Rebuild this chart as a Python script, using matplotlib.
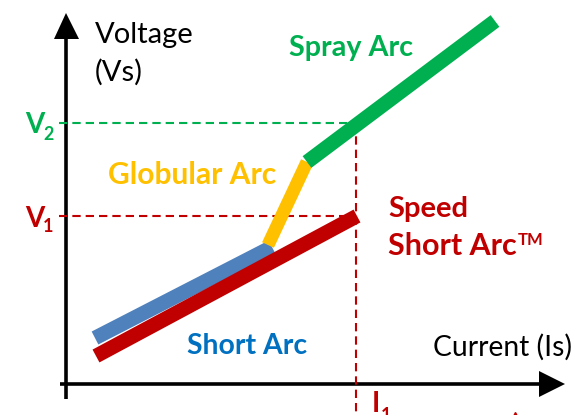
import matplotlib
matplotlib.use('Agg')
import matplotlib.pyplot as plt

# arc segments: current (Is) and voltage (Vs), in picture units
short_i = [95, 272]
short_v = [338, 247]
speed_i = [96, 357]
speed_v = [356, 216]
glob_i = [268, 307]
glob_v = [245, 162]
spray_i = [307, 495]
spray_v = [162, 21]

v1 = 216
v2 = 123
i1 = 356

blue = '#4F81BD'
red = '#C00000'
yellow = '#FFC000'
green = '#00B050'
txtblue = '#0070C0'

plt.rcParams['font.family'] = ['Lato', 'DejaVu Sans']

fig = plt.figure(figsize=(5.82, 4.15), dpi=100)
ax = fig.add_axes([0, 0, 1, 1])
ax.set_xlim(0, 582)
ax.set_ylim(415, 0)
ax.axis('off')

# axes with arrows
ax.plot([66, 66], [399, 30], color='black', lw=2.6, solid_capstyle='butt')
ax.plot([60, 550], [384, 384], color='black', lw=2.6, solid_capstyle='butt')
ax.fill([66, 54, 79], [13, 39, 39], color='black', lw=0)
ax.fill([565, 539, 539], [384, 371, 397], color='black', lw=0)

# dashed guides
dash = dict(lw=1.5, dashes=(4, 2.4))
ax.plot([59, i1], [v2, v2], color=green, **dash)
ax.plot([59, i1], [v1, v1], color=red, **dash)
ax.plot([i1, i1], [v2, 415], color=red, **dash)

lw = 10.5
ax.plot(short_i, short_v, color=blue, lw=lw, solid_capstyle='butt')
ax.plot(glob_i, glob_v, color=yellow, lw=9.4, solid_capstyle='butt')
ax.plot(spray_i, spray_v, color=green, lw=lw, solid_capstyle='butt')
ax.plot(speed_i, speed_v, color=red, lw=lw, solid_capstyle='butt')

ax.text(95, 43, 'Voltage', fontsize=21, color='black', va='baseline')
ax.text(95, 81, '(Vs)', fontsize=21, color='black', va='baseline')
ax.text(433, 356, 'Current (Is)', fontsize=20.3, color='black', va='baseline')

ax.text(289, 56, 'Spray Arc', fontsize=20.7, color=green, weight='bold', va='baseline')
ax.text(108, 184, 'Globular Arc', fontsize=21.6, color=yellow, weight='bold', va='baseline')
ax.text(388, 217, 'Speed', fontsize=21, color=red, weight='bold', va='baseline')
ax.text(388, 255, 'Short Arc', fontsize=22, color=red, weight='bold', va='baseline')
ax.text(518, 245, 'TM', fontsize=12, color=red, weight='bold', va='baseline')
ax.text(187, 354, 'Short Arc', fontsize=20.4, color=txtblue, weight='bold', va='baseline')

ax.text(25, 133, 'V', fontsize=20, color=green, weight='bold', va='baseline')
ax.text(43, 140, '2', fontsize=13, color=green, weight='bold', va='baseline')
ax.text(25, 227, 'V', fontsize=20, color=red, weight='bold', va='baseline')
ax.text(43, 232, '1', fontsize=13, color=red, weight='bold', va='baseline')
ax.text(372, 412, 'I', fontsize=20, color=red, weight='bold', va='baseline')
ax.text(381, 421, '1', fontsize=13, color=red, weight='bold', va='baseline')

ax.plot([515], [418], marker='^', color=red, ms=8, clip_on=True)

fig.savefig('out.png', dpi=100)
